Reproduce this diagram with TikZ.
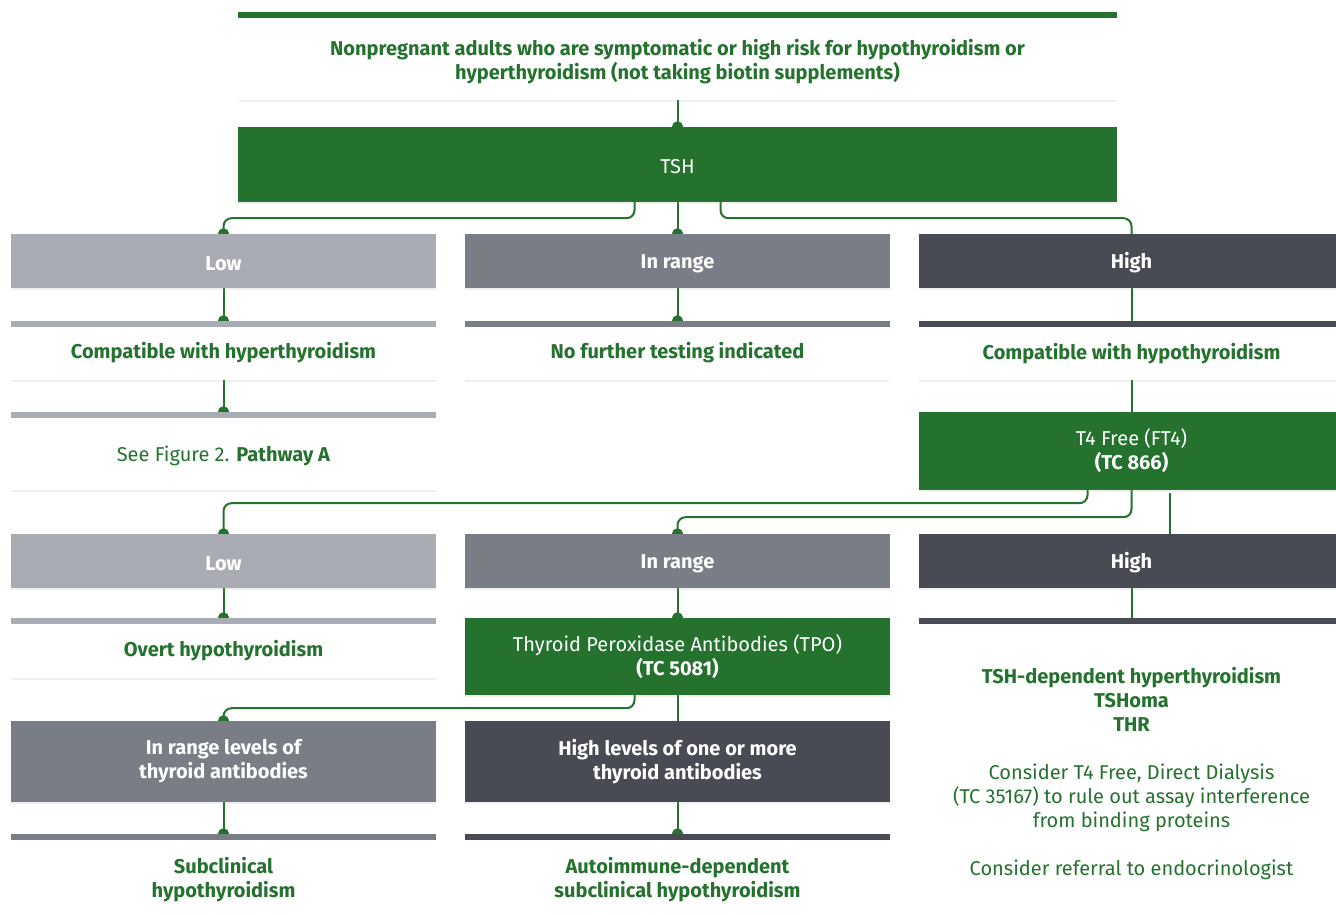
\documentclass[tikz,border=0pt]{standalone}
\usepackage{fontspec}
\setmainfont{Fira Sans}
\usetikzlibrary{arrows.meta,backgrounds,shadows}
\definecolor{labgreen}{HTML}{24722E}
\definecolor{greylow}{HTML}{A9ACB3}
\definecolor{greymid}{HTML}{797D86}
\definecolor{greyhigh}{HTML}{484B54}
\newcommand{\flowfont}{\fontsize{20}{24}\selectfont}
\newcommand{\toppad}[1]{\rule{0pt}{#1}}
\tikzset{
  flowbox/.style = {minimum width=425pt, align=center, inner sep=0pt, font=\flowfont,
    drop shadow={opacity=.15, fill=black!40, shadow xshift=0pt, shadow yshift=-2pt}},
  hdrbox/.style = {flowbox, fill=#1, text=white, font=\flowfont\bfseries},
  testbox/.style = {flowbox, fill=labgreen, text=white},
  resbox/.style = {flowbox, fill=white, text=labgreen, font=\flowfont\bfseries,
    path picture={\fill[#1] (path picture bounding box.north west)
      rectangle ([yshift=-6pt]path picture bounding box.north east);}},
  link/.style = {draw=labgreen, line width=2pt, rounded corners=8pt,
    -{Circle[length=11pt,width=11pt]}, shorten >=-5.5pt},
  plainlink/.style = {draw=labgreen, line width=2pt}
}
\begin{document}
\begin{tikzpicture}[x=1pt, y=-1pt]
  \useasboundingbox (0,0) rectangle (1336,915);
  % top of the chart
  \node[resbox=labgreen, minimum width=879pt, minimum height=88pt] (who) at (677.5,56)
    {\toppad{27pt}Nonpregnant adults who are symptomatic or high risk for hypothyroidism or\\
     hyperthyroidism (not taking biotin supplements)};
  \node[testbox, minimum width=879pt, minimum height=75pt] (tsh) at (677.5,164.5) {\toppad{19pt}TSH};
  % TSH result
  \node[hdrbox=greylow, minimum height=54pt] (tshlow) at (223.5,261) {\toppad{19pt}Low};
  \node[hdrbox=greymid, minimum height=54pt] (tshok) at (677.5,261) {\toppad{19pt}In range};
  \node[hdrbox=greyhigh, minimum height=54pt] (tshhigh) at (1131.5,261) {\toppad{19pt}High};
  \node[resbox=greylow, minimum height=59pt] (hyper) at (223.5,350.5)
    {\toppad{21pt}Compatible with hyperthyroidism};
  \node[resbox=greymid, minimum height=59pt] (nomore) at (677.5,350.5)
    {\toppad{21pt}No further testing indicated};
  \node[resbox=greyhigh, minimum height=59pt] (hypo) at (1131.5,350.5)
    {\toppad{22pt}Compatible with hypothyroidism};
  \node[resbox=greylow, minimum height=78pt, font=\flowfont] (pathA) at (223.5,451)
    {\toppad{25pt}See Figure 2. \textbf{Pathway A}};
  \node[testbox, minimum height=78pt] (ft4) at (1131.5,451) {T4 Free (FT4)\\\textbf{(TC 866)}};
  % FT4 result
  \node[hdrbox=greylow, minimum height=54pt] (ftlow) at (223.5,561) {\toppad{19pt}Low};
  \node[hdrbox=greymid, minimum height=54pt] (ftok) at (677.5,561) {\toppad{19pt}In range};
  \node[hdrbox=greyhigh, minimum height=54pt] (fthigh) at (1131.5,561) {\toppad{19pt}High};
  \node[resbox=greylow, minimum height=60pt] (overt) at (223.5,648) {\toppad{22pt}Overt hypothyroidism};
  \node[testbox, minimum height=77pt] (tpo) at (677.5,656.5)
    {Thyroid Peroxidase Antibodies (TPO)\\\textbf{(TC 5081)}};
  \node[resbox=greyhigh, minimum height=312pt, font=\flowfont] (tshdep) at (1131.5,774)
    {\textbf{TSH-dependent hyperthyroidism}\\\textbf{TSHoma}\\\textbf{THR}\\[24pt]
     Consider T4 Free, Direct Dialysis\\(TC 35167) to rule out assay interference\\
     from binding proteins\\[24pt]Consider referral to endocrinologist};
  % TPO result
  \node[hdrbox=greymid, minimum height=81pt] (abok) at (223.5,761.5)
    {In range levels of\\thyroid antibodies};
  \node[hdrbox=greyhigh, minimum height=81pt] (abhigh) at (677.5,761.5)
    {High levels of one or more\\thyroid antibodies};
  \node[resbox=greymid, minimum height=90pt] (subclin) at (223.5,879)
    {\toppad{18pt}Subclinical\\hypothyroidism};
  \node[resbox=greyhigh, minimum height=90pt] (autoimm) at (677.5,879)
    {\toppad{18pt}Autoimmune-dependent\\subclinical hypothyroidism};
  \begin{scope}[on background layer]
    \draw[link] (who) -- (tsh);
    \draw[link] ([xshift=-43pt]tsh.south) -- ++(0,16) -| (tshlow.north);
    \draw[link] (tsh) -- (tshok);
    \draw[plainlink, rounded corners=8pt] ([xshift=43pt]tsh.south) -- ++(0,16) -| (tshhigh.north);
    \draw[link] (tshlow) -- (hyper);
    \draw[link] (tshok) -- (nomore);
    \draw[plainlink] (tshhigh) -- (hypo);
    \draw[link] (hyper) -- (pathA);
    \draw[plainlink] (hypo) -- (ft4);
    \draw[link] ([xshift=-44pt]ft4.south) -- ++(0,13) -| (ftlow.north);
    \draw[link] (ft4.south) -- ++(0,27) -| (ftok.north);
    \draw[plainlink] ([xshift=38pt,yshift=-3pt]ft4.south) -- ([xshift=38pt]fthigh.north);
    \draw[link] (ftlow) -- (overt);
    \draw[link] (ftok) -- (tpo);
    \draw[plainlink] (fthigh) -- (tshdep);
    \draw[link] ([xshift=-43pt]tpo.south) -- ++(0,13) -| (abok.north);
    \draw[plainlink] (tpo) -- (abhigh);
    \draw[link] (abok) -- (subclin);
    \draw[link] (abhigh) -- (autoimm);
  \end{scope}
\end{tikzpicture}
\end{document}
